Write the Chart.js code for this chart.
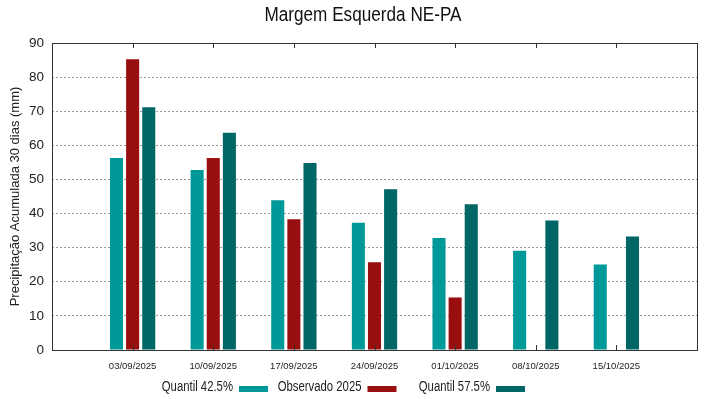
<!DOCTYPE html>
<html>
<head>
<meta charset="utf-8">
<script src="https://cdn.jsdelivr.net/npm/chart.js@4"></script>
<style>
  html, body { margin: 0; padding: 0; background: #fff; }
  #wrap { width: 719px; height: 399px; }
</style>
</head>
<body>
<div id="wrap"><canvas id="myChart" width="719" height="399"></canvas></div>
<script>
const dates = ['03/09/2025', '10/09/2025', '17/09/2025', '24/09/2025', '01/10/2025', '08/10/2025', '15/10/2025'];
const quantil425 = [56.3, 52.8, 43.9, 37.3, 32.8, 29.1, 25.1];
const observado = [85.2, 56.3, 38.3, 25.7, 15.4, null, null];
const quantil575 = [71.2, 63.7, 54.8, 47.1, 42.7, 38.0, 33.3];
const yTicks = [0, 10, 20, 30, 40, 50, 60, 70, 80, 90];
const title = 'Margem Esquerda NE-PA';

// empty slot at each end, like the original axis
const labels = [''].concat(dates, ['']);
const pad = arr => [null].concat(arr, [null]);

const font = '"Liberation Sans", Arial, sans-serif';

const series = [
    { label: 'Quantil 42.5%', data: quantil425, color: '#009999' },
    { label: 'Observado 2025', data: observado, color: '#990f0f' },
    { label: 'Quantil 57.5%', data: quantil575, color: '#006666' },
];

// text squeezed horizontally (original looks condensed)
function squeezed(c, text, x, y, sx) {
    c.save();
    c.translate(x, y);
    c.scale(sx, 1);
    c.fillText(text, 0, 0);
    c.restore();
}

const frame = {
    id: 'frame',
    afterDraw(chart) {
        const c = chart.ctx;
        const a = chart.chartArea;
        const x = chart.scales.x;
        c.save();
        c.strokeStyle = '#333';
        c.lineWidth = 1;
        c.strokeRect(Math.round(a.left) + 0.5, Math.round(a.top) + 0.5,
            Math.round(a.right - a.left), Math.round(a.bottom - a.top));
        c.beginPath();
        for (let i = 1; i <= dates.length; i++) {
            const px = Math.round(x.getPixelForValue(i)) + 0.5;
            c.moveTo(px, a.top); c.lineTo(px, a.top + 5);
            c.moveTo(px, a.bottom); c.lineTo(px, a.bottom - 5);
        }
        c.stroke();

        // title
        c.fillStyle = '#111';
        c.font = '19.5px ' + font;
        c.textAlign = 'center';
        c.textBaseline = 'middle';
        squeezed(c, title, 363, 16, 0.88);

        // legend: text then sample line
        c.font = '14px ' + font;
        c.textAlign = 'right';
        series.forEach((s, i) => {
            const tx = 233 + 128.5 * i;
            c.fillStyle = '#222';
            squeezed(c, s.label, tx, 387, 0.81);
            c.fillStyle = s.color;
            c.fillRect(tx + 6, 386, 29, 6);
        });
        c.restore();
    }
};

new Chart(document.getElementById('myChart'), {
    type: 'bar',
    data: {
        labels: labels,
        datasets: series.map(s => ({
            label: s.label,
            data: pad(s.data),
            backgroundColor: s.color,
            borderWidth: 0,
            categoryPercentage: 0.6,
            barPercentage: 0.81,
        }))
    },
    options: {
        responsive: false,
        animation: false,
        layout: { padding: { left: 0, right: 22, top: 43, bottom: 0 } },
        plugins: {
            legend: { display: false },
            tooltip: { enabled: false },
            title: { display: false }
        },
        scales: {
            x: {
                offset: false,
                grid: { display: false, drawTicks: false },
                border: { display: false },
                ticks: {
                    color: '#222',
                    autoSkip: false,
                    maxRotation: 0,
                    padding: 11,
                    font: { family: font, size: 9.5 }
                },
                afterFit(scale) { scale.height = 49; }
            },
            y: {
                min: 0,
                max: 90,
                afterBuildTicks(scale) { scale.ticks = yTicks.map(v => ({ value: v })); },
                grid: {
                    drawTicks: false,
                    color: ctx => (ctx.tick.value === 0 || ctx.tick.value === 90) ? 'rgba(0,0,0,0)' : '#999',
                    lineWidth: 1
                },
                border: { display: false, dash: [2, 2] },
                ticks: {
                    color: '#222',
                    padding: 8,
                    font: { family: font, size: 13.5 }
                },
                title: {
                    display: true,
                    text: 'Precipitação Acumulada 30 dias (mm)',
                    color: '#222',
                    padding: { top: 8, bottom: 0 },
                    font: { family: font, size: 13 }
                },
                afterFit(scale) { scale.width = 52; }
            }
        }
    },
    plugins: [frame]
});
</script>
</body>
</html>
